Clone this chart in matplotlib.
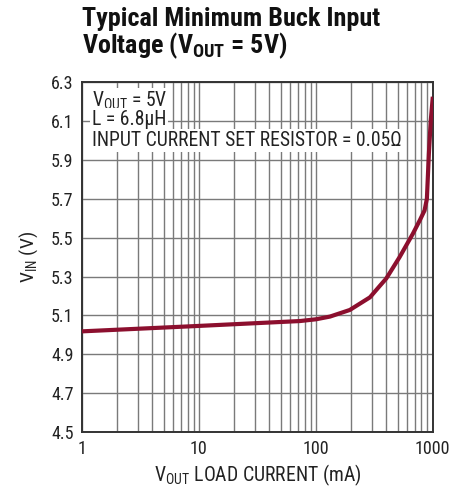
import numpy as np
import matplotlib
matplotlib.use("Agg")
import matplotlib.pyplot as plt
from matplotlib import font_manager
from matplotlib.ticker import LogLocator, FixedLocator, NullFormatter

# == DATOS ==
load_ma = [1, 10, 73, 100, 132, 195, 290, 350, 400, 520, 675, 775, 850, 890, 925, 960, 1000]
vin = [5.018, 5.046, 5.071, 5.08, 5.094, 5.128, 5.193, 5.25, 5.29, 5.40, 5.52, 5.59, 5.64,
       5.70, 5.93, 6.10, 6.225]
y_ticks = [4.5, 4.7, 4.9, 5.1, 5.3, 5.5, 5.7, 5.9, 6.1, 6.3]
x_ticks = [1, 10, 100, 1000]
notes = ["V$_{OUT}$ = 5V", "L = 6.8µH", "INPUT CURRENT SET RESISTOR = 0.05Ω"]

# == FUENTES ==
# buscamos una sans estrecha con regular y bold estaticas
fonts = font_manager.fontManager.ttflist
candidates = ["Roboto Condensed", "Barlow Semi Condensed", "Archivo Narrow", "Asap Condensed"]
chosen = "DejaVu Sans"
for c in candidates:
    ws = {f.weight for f in fonts if f.name == c and "[" not in f.fname and "Italic" not in f.fname}
    if 400 in ws and 700 in ws:
        chosen = c
        break
plt.rcParams["font.family"] = [chosen, "DejaVu Sans"]
plt.rcParams["mathtext.default"] = "regular"

fig = plt.figure(figsize=(4.58, 4.86), dpi=100)
ax = fig.add_axes([0.179, 0.111, 0.766, 0.720])

ax.set_xscale("log")
ax.set_xlim(1, 1000)
ax.set_ylim(4.5, 6.3)
ax.xaxis.set_major_locator(FixedLocator(x_ticks))
ax.xaxis.set_minor_locator(LogLocator(base=10, subs=np.arange(2, 10)))
ax.xaxis.set_minor_formatter(NullFormatter())
ax.set_xticks(x_ticks)
ax.set_xticklabels([str(v) for v in x_ticks])
ax.set_yticks(y_ticks)
ax.set_yticklabels([f"{v:.1f}" for v in y_ticks])

ax.grid(True, which="both", axis="x", color="#7a7a7a", lw=1.0)
ax.grid(True, which="major", axis="y", color="#7a7a7a", lw=1.0)
ax.tick_params(which="both", length=0, labelsize=13, labelcolor="#222222", pad=6)
for sp in ax.spines.values():
    sp.set_color("#333333")
    sp.set_linewidth(1.4)

ax.plot(load_ma, vin, color="#8c0f2e", lw=3, solid_capstyle="butt", zorder=3)

# Notas con fondo blanco
for i, t in enumerate(notes):
    ax.text(0.028, 0.978 - i * 0.0585, t, transform=ax.transAxes, fontsize=14.1,
            color="#222222", va="top", ha="left",
            bbox=dict(facecolor="white", edgecolor="none", pad=1.5), zorder=4)

ax.set_xlabel("V$_{OUT}$ LOAD CURRENT (mA)", fontsize=14.2, color="#222222", labelpad=3)
ax.set_ylabel("V$_{IN}$ (V)", fontsize=14, color="#222222", labelpad=8)

fig.text(0.179, 0.985, "Typical Minimum Buck Input\nVoltage (V$_{OUT}$ = 5V)", fontsize=18.8,
         fontweight=800, color="#111111", va="top", ha="left", linespacing=0.98)

fig.savefig("out.png", dpi=100)
